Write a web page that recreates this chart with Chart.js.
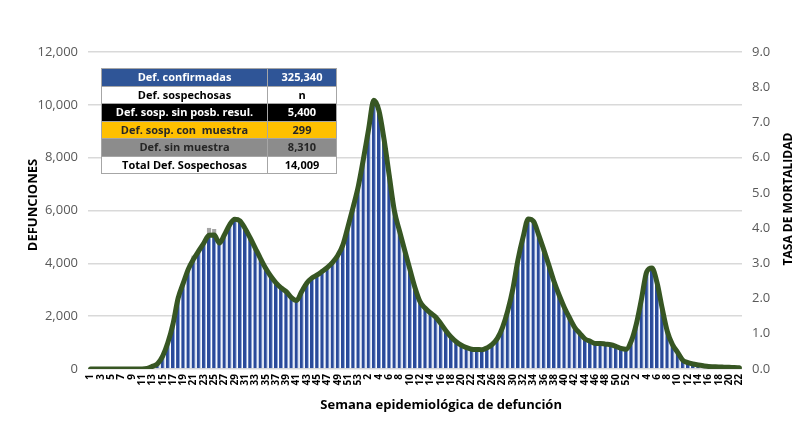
<!DOCTYPE html>
<html><head><meta charset="utf-8">
<script src="https://cdn.jsdelivr.net/npm/chart.js@4.4.0/dist/chart.umd.min.js"></script>
<style>
html,body{margin:0;padding:0;background:#fff;}
#wrap{position:relative;width:800px;height:440px;overflow:hidden;}
canvas{position:absolute;left:0;top:0;}
#tbl{position:absolute;left:101px;top:68px;border-collapse:collapse;font-family:"Open Sans",sans-serif;font-weight:700;font-size:11px;}
#tbl td{height:16.5px;padding:0;text-align:center;border:1px solid #A6A6A6;line-height:16px;white-space:pre;}
</style></head>
<body>
<div id="wrap"><canvas id="c" width="800" height="440"></canvas><table id="tbl"></table></div>
<script>
// Week labels: 2020 (1-53), 2021 (1-52), 2022 (1-22)
const weekLabels = [
 1,2,3,4,5,6,7,8,9,10,11,12,13,14,15,16,17,18,19,20,21,22,23,24,25,26,27,28,29,30,31,32,33,34,35,36,37,38,39,40,41,42,43,44,45,46,47,48,49,50,51,52,53,
 1,2,3,4,5,6,7,8,9,10,11,12,13,14,15,16,17,18,19,20,21,22,23,24,25,26,27,28,29,30,31,32,33,34,35,36,37,38,39,40,41,42,43,44,45,46,47,48,49,50,51,52,
 1,2,3,4,5,6,7,8,9,10,11,12,13,14,15,16,17,18,19,20,21,22
];
// Confirmed deaths per week
const confirmadas = [
 0,0,0,0,0,0,0,0,0,0,0,20,100,200,490,990,1700,2680,3250,3790,4160,4470,4770,5060,5070,4770,5080,5460,5670,5610,5320,4960,4570,4180,3810,3510,3260,3070,2930,2700,2590,2930,3260,3450,3560,3700,3850,4040,4300,4700,5400,6140,6930,
 7970,9090,10170,9780,8680,7320,5980,5220,4490,3780,3080,2540,2300,2120,1970,1720,1450,1210,1030,900,810,750,740,730,800,930,1160,1580,2200,3030,4140,5000,5680,5590,5090,4520,3930,3310,2790,2330,1940,1580,1350,1140,1050,970,970,940,920,860,780,750,
 1060,1720,2670,3680,3820,3270,2300,1420,920,630,330,240,190,150,120,95,85,75,70,65,55,50
];
// Suspected deaths (stacked, gray)
const sospechosas = [
 0,0,0,0,0,0,0,0,0,0,0,0,0,0,0,0,0,0,0,0,130,0,0,280,230,0,0,0,0,0,0,0,0,0,0,0,0,0,0,0,0,0,0,0,0,0,0,0,0,0,0,0,0,
 0,0,0,0,0,0,0,0,0,0,0,0,0,0,0,0,0,0,0,0,0,0,0,0,0,0,0,0,0,0,0,0,0,0,0,0,0,0,0,0,0,0,0,0,0,0,0,0,0,0,0,0,
 0,0,0,0,0,0,0,0,0,0,0,0,0,0,0,0,0,0,0,0,0,0
];
const leftTicks = [0,2000,4000,6000,8000,10000,12000];
const rightTicks = [0,1,2,3,4,5,6,7,8,9];
const tableLabels = ["Def. confirmadas","Def. sospechosas","Def. sosp. sin posb. resul.","Def. sosp. con  muestra","Def. sin muestra","Total Def. Sospechosas"];
const tableValues = ["325,340","n","5,400","299","8,310","14,009"];
const tableBg = ["#2F5597","#FFFFFF","#000000","#FFC000","#8C8C8C","#FFFFFF"];
const tableFg = ["#FFFFFF","#000000","#FFFFFF","#262626","#262626","#000000"];

const tbl = document.getElementById('tbl');
tableLabels.forEach((t,i)=>{
  const tr=document.createElement('tr');
  const a=document.createElement('td'); a.textContent=t; a.style.width='165px';
  const b=document.createElement('td'); b.textContent=tableValues[i]; b.style.width='68px';
  [a,b].forEach(td=>{td.style.background=tableBg[i];td.style.color=tableFg[i];});
  tr.appendChild(a);tr.appendChild(b);tbl.appendChild(tr);
});

const titles = {
  id:'titles',
  afterDraw(chart){
    const c=chart.ctx, a=chart.chartArea;
    c.save(); c.fillStyle='#000'; c.textAlign='center'; c.textBaseline='middle';
    c.font='bold 13px "Open Sans"';
    c.fillText('Semana epidemiológica de defunción', a.left+(a.right-a.left)*0.54, 405);
    c.save(); c.translate(33, 205); c.rotate(-Math.PI/2); c.fillText('DEFUNCIONES',0,0); c.restore();
    c.save(); c.translate(789, 199); c.rotate(-Math.PI/2); c.font='bold 12px "Open Sans"'; c.fillText('TASA DE MORTALIDAD',0,0); c.restore();
    c.restore();
  }
};

new Chart(document.getElementById('c'), {
  data: {
    labels: weekLabels,
    datasets: [
      {type:'line', label:'Defunciones', data: confirmadas, yAxisID:'y', order:0,
       borderColor:'#375623', borderWidth:5, pointRadius:0, cubicInterpolationMode:'monotone', borderCapStyle:'round', borderJoinStyle:'round'},
      {type:'bar', label:'Confirmadas', data: confirmadas, yAxisID:'y', order:1,
       backgroundColor:'#2A4A9A', borderColor:'#8FA9DC', borderWidth:{left:0,right:1,top:0,bottom:0}, borderSkipped:false,
       barPercentage:0.8, categoryPercentage:1.0},
      {type:'bar', label:'Sospechosas', data: sospechosas, yAxisID:'y', order:2,
       backgroundColor:'#A6A6A6', barPercentage:0.8, categoryPercentage:1.0}
    ]
  },
  options: {
    responsive:false, animation:false,
    layout:{padding:{left:0,right:0,top:52,bottom:25}},
    plugins:{legend:{display:false}, tooltip:{enabled:false}},
    scales:{
      x:{stacked:true, grid:{display:false, drawTicks:false}, border:{display:false},
         ticks:{autoSkip:false, minRotation:90, maxRotation:90, padding:5, color:'#000',
           font:{family:'"Open Sans"', size:10, weight:'bold'},
           callback:function(v,i){ return i%2===0 ? String(weekLabels[i]) : ''; }},
         afterFit:(s)=>{s.height=46;}},
      y:{stacked:true, position:'left', min:0, max:12000,
         afterBuildTicks:(s)=>{s.ticks=leftTicks.map(v=>({value:v}));},
         grid:{color:'#D9D9D9', lineWidth:1.5, drawTicks:false}, border:{display:false},
         ticks:{padding:10, color:'#595959', font:{family:'"Open Sans"', size:13},
           callback:(v)=>v.toLocaleString('en-US')},
         afterFit:(s)=>{s.width=88;}},
      y1:{position:'right', min:0, max:9,
         afterBuildTicks:(s)=>{s.ticks=rightTicks.map(v=>({value:v}));},
         grid:{display:false, drawTicks:false}, border:{display:false},
         ticks:{padding:10, color:'#595959', font:{family:'"Open Sans"', size:13},
           callback:(v)=>Number(v).toFixed(1)},
         afterFit:(s)=>{s.width=58;}}
    }
  },
  plugins:[titles]
});
</script>
</body></html>
